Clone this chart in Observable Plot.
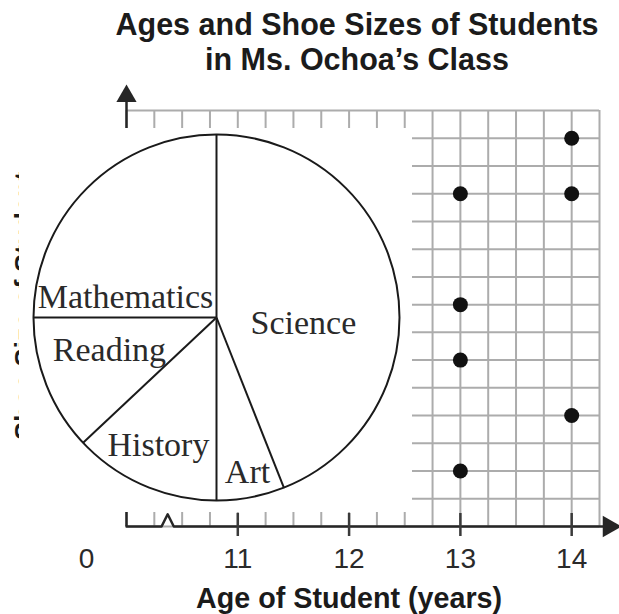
<!DOCTYPE html>
<html>
<head>
<meta charset="utf-8">
<script src="https://cdn.jsdelivr.net/npm/d3@7"></script>
<script src="https://cdn.jsdelivr.net/npm/@observablehq/plot@0.6"></script>
<style>
  body { margin: 0; background: #fff; }
  #wrap { position: relative; width: 619px; height: 614px; overflow: hidden; background: #fff; }
  #title { position: absolute; left: 95px; top: 7px; width: 524px; text-align: center;
           font-family: "Liberation Sans", Arial, sans-serif; font-weight: bold; font-size: 30.5px;
           line-height: 35px; color: #1b1b1b; }
  #main { position: absolute; left: 0; top: 0; }
  #pie { position: absolute; left: 19px; top: 128px; }
</style>
</head>
<body>
<div id="wrap">
  <div id="main"></div>
  <div id="pie"></div>
  <div id="title"></div>
</div>
<script>
// ---------- data ----------
const ages = [14, 13, 14, 13, 13, 14, 13];
const shoeSizes = [9, 8, 8, 6, 5, 4, 3];
const xTickValues = [11, 12, 13, 14];
const xTickLabels = ["11", "12", "13", "14"];
const xOriginLabel = ["0"];
// only the top shoe-size label peeks out above the pie panel in the reference
const yTickValues = [9];
const yTickLabels = ["9"];
const subjects = ["Science", "Art", "History", "Reading", "Mathematics"];
const subjectPercents = [44, 6, 13, 12, 25];
const chartTitle = ["Ages and Shoe Sizes of Students", "in Ms. Ochoa’s Class"];
const xTitle = "Age of Student (years)";
const yTitle = "Shoe Size of Student";

// ---------- layout ----------
const xDomain = [10, 14.25];
const yDomain = [2, 9.5];
const gridStepX = 0.25;
const gridStepY = 0.5;
const axisBreak = [10.315, 10.37, 10.425];
const breakRise = 0.22;
const arrowEndX = 14.335;
const arrowEndY = 9.76;
// label placement in the pie: [angle clockwise from top (deg), radius fraction]
const labelPolar = [[94, 0.476], [168.7, 0.864], [204.4, 0.768], [252.9, 0.612], [282.4, 0.509]];

const ink = "#262626";
const textInk = "#2a2a2a";
const gridColor = "#acacac";
const sans = "'Liberation Sans', Arial, sans-serif";
const serif = "'Liberation Serif', 'Times New Roman', serif";

document.getElementById("title").innerHTML = chartTitle.join("<br>");

const points = ages.map((a, i) => ({age: a, size: shoeSizes[i]}));
const xGrid = d3.range(xDomain[0], xDomain[1] + 1e-9, gridStepX);
const yGrid = d3.range(yDomain[0], yDomain[1] + 1e-9, gridStepY);
const xAxisPath = [
  {x: xDomain[0], y: yDomain[0]},
  {x: axisBreak[0], y: yDomain[0]},
  {x: axisBreak[1], y: yDomain[0] + breakRise},
  {x: axisBreak[2], y: yDomain[0]},
  {x: arrowEndX, y: yDomain[0]}
];

const main = Plot.plot({
  width: 619, height: 614,
  marginLeft: 126, marginRight: 20, marginTop: 110, marginBottom: 88,
  x: {domain: xDomain, axis: null},
  y: {domain: yDomain, axis: null},
  style: {background: "transparent", fontFamily: sans, overflow: "visible"},
  marks: [
    Plot.ruleX(xGrid, {x: d => d, stroke: gridColor, strokeWidth: 2}),
    Plot.ruleY(yGrid, {y: d => d, stroke: gridColor, strokeWidth: 2}),
    Plot.text(yTickValues, {x: xDomain[0], y: d => d, dx: -54, text: (d, i) => yTickLabels[i],
      fontSize: 27, fill: textInk}),
    Plot.text([yTitle], {x: xDomain[0], y: 5.98, dx: -101, rotate: -90, text: d => d,
      fontSize: 27, fontWeight: "bold", fill: "#1b1b1b"}),
    Plot.line(xAxisPath, {x: "x", y: "y", stroke: ink, strokeWidth: 2.5}),
    Plot.ruleX([xDomain[0]], {x: d => d, y1: yDomain[0], y2: arrowEndY, stroke: ink, strokeWidth: 2.5}),
    Plot.dot([{x: arrowEndX, y: yDomain[0]}], {x: "x", y: "y", symbol: "triangle", r: 8, rotate: 90, fill: ink}),
    Plot.dot([{x: xDomain[0], y: arrowEndY}], {x: "x", y: "y", symbol: "triangle", r: 7.5, fill: ink}),
    Plot.ruleX(xTickValues, {x: d => d, y1: yDomain[0], y2: yDomain[0], insetTop: -13, insetBottom: -10,
      stroke: "#3a3a3a", strokeWidth: 2.5}),
    Plot.text(xTickValues, {x: d => d, y: yDomain[0], dy: 33, text: (d, i) => xTickLabels[i],
      fontSize: 28, fill: textInk}),
    Plot.text(xOriginLabel, {x: xDomain[0], y: yDomain[0], dx: -40, dy: 33, text: d => d,
      fontSize: 28, fill: textInk}),
    Plot.text([xTitle], {x: 12, y: yDomain[0], dy: 72, text: d => d, fontSize: 28.7,
      fontWeight: "bold", fill: "#1b1b1b"}),
    Plot.dot(points, {x: "age", y: "size", r: 7.5, fill: "#111"})
  ]
});
document.getElementById("main").appendChild(main);

// ---------- pie ----------
const total = d3.sum(subjectPercents);
let acc = 0;
const slices = subjects.map((s, i) => {
  const a0 = acc / total * 360;
  acc += subjectPercents[i];
  const a1 = acc / total * 360;
  return {subject: s, a0, a1};
});
const rad = d => d * Math.PI / 180;
const boundaries = slices.map(s => ({a: s.a0}));
const labels = slices.map((s, i) => {
  const [ang, r] = labelPolar[i];
  return {subject: s.subject, x: r * Math.sin(rad(ang)), y: r * Math.cos(rad(ang))};
});

const pieW = 393, pieH = 384, pieML = 14, pieMR = 13, pieMT = 6, pieMB = 12;
const pieR = (pieW - pieML - pieMR) / 2;
const pie = Plot.plot({
  width: pieW, height: pieH,
  marginLeft: pieML, marginRight: pieMR, marginTop: pieMT, marginBottom: pieMB,
  x: {domain: [-1, 1], axis: null},
  y: {domain: [-1, 1], axis: null},
  style: {background: "white", fontFamily: serif, overflow: "visible"},
  marks: [
    Plot.link(boundaries, {x1: 0, y1: 0, x2: d => Math.sin(rad(d.a)), y2: d => Math.cos(rad(d.a)),
      stroke: "#1a1a1a", strokeWidth: 2}),
    Plot.dot([0], {x: 0, y: 0, r: pieR, stroke: "#1a1a1a", strokeWidth: 2, fill: "none"}),
    Plot.text(labels, {x: "x", y: "y", text: "subject", fontSize: 34, fill: "#2a2a2a"})
  ]
});
document.getElementById("pie").appendChild(pie);
</script>
</body>
</html>
